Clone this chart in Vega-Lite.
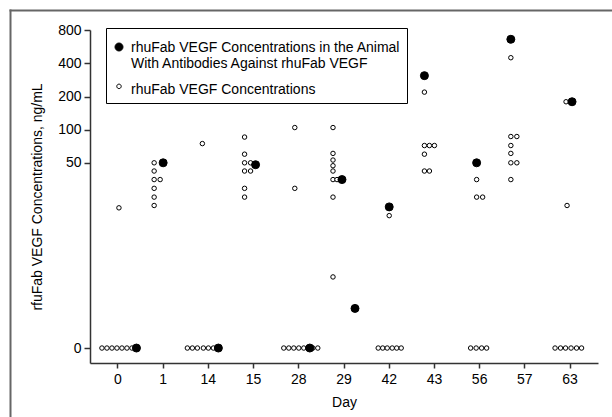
{
  "$schema": "https://vega.github.io/schema/vega-lite/v6.json",
  "width": 602,
  "height": 407,
  "autosize": "none",
  "padding": {"left": 10, "top": 10, "right": 0, "bottom": 0},
  "background": "white",
  "config": {
    "view": {"stroke": null},
    "font": "Liberation Sans",
    "axis": {
      "grid": false,
      "domainColor": "#333333",
      "domainWidth": 1.5,
      "tickColor": "#333333",
      "tickWidth": 1.5,
      "labelColor": "black",
      "titleColor": "black",
      "labelFontSize": 14,
      "titleFontSize": 14,
      "titleFontWeight": "normal"
    }
  },
  "data": {
    "values": [
      {"day": "0", "conc": 0, "jitter": -3.2, "series": "B"},
      {"day": "0", "conc": 0, "jitter": -2.2, "series": "B"},
      {"day": "0", "conc": 0, "jitter": -1.2, "series": "B"},
      {"day": "0", "conc": 0, "jitter": -0.2, "series": "B"},
      {"day": "0", "conc": 0, "jitter": 0.8, "series": "B"},
      {"day": "0", "conc": 0, "jitter": 1.8, "series": "B"},
      {"day": "0", "conc": 0, "jitter": 2.8, "series": "B"},
      {"day": "0", "conc": 19, "jitter": 0.2, "series": "B"},
      {"day": "1", "conc": 50, "jitter": -1.8, "series": "B"},
      {"day": "1", "conc": 42, "jitter": -1.8, "series": "B"},
      {"day": "1", "conc": 35, "jitter": -1.8, "series": "B"},
      {"day": "1", "conc": 29, "jitter": -1.8, "series": "B"},
      {"day": "1", "conc": 24, "jitter": -1.8, "series": "B"},
      {"day": "1", "conc": 20, "jitter": -1.8, "series": "B"},
      {"day": "1", "conc": 35, "jitter": -0.6, "series": "B"},
      {"day": "14", "conc": 75, "jitter": -1.2, "series": "B"},
      {"day": "14", "conc": 0, "jitter": -4.2, "series": "B"},
      {"day": "14", "conc": 0, "jitter": -3.2, "series": "B"},
      {"day": "14", "conc": 0, "jitter": -2.2, "series": "B"},
      {"day": "14", "conc": 0, "jitter": -1.0, "series": "B"},
      {"day": "14", "conc": 0, "jitter": 0, "series": "B"},
      {"day": "14", "conc": 0, "jitter": 1.0, "series": "B"},
      {"day": "15", "conc": 86, "jitter": -1.8, "series": "B"},
      {"day": "15", "conc": 60, "jitter": -1.8, "series": "B"},
      {"day": "15", "conc": 50, "jitter": -1.8, "series": "B"},
      {"day": "15", "conc": 42, "jitter": -1.8, "series": "B"},
      {"day": "15", "conc": 29, "jitter": -1.8, "series": "B"},
      {"day": "15", "conc": 24, "jitter": -1.8, "series": "B"},
      {"day": "15", "conc": 50, "jitter": -0.6, "series": "B"},
      {"day": "15", "conc": 42, "jitter": -0.6, "series": "B"},
      {"day": "28", "conc": 105, "jitter": -0.8, "series": "B"},
      {"day": "28", "conc": 29, "jitter": -0.8, "series": "B"},
      {"day": "28", "conc": 0, "jitter": -3, "series": "B"},
      {"day": "28", "conc": 0, "jitter": -2, "series": "B"},
      {"day": "28", "conc": 0, "jitter": -1, "series": "B"},
      {"day": "28", "conc": 0, "jitter": 0, "series": "B"},
      {"day": "28", "conc": 0, "jitter": 1, "series": "B"},
      {"day": "28", "conc": 0, "jitter": 1.8, "series": "B"},
      {"day": "28", "conc": 0, "jitter": 2.8, "series": "B"},
      {"day": "28", "conc": 0, "jitter": 3.8, "series": "B"},
      {"day": "29", "conc": 105, "jitter": -2.2, "series": "B"},
      {"day": "29", "conc": 61, "jitter": -2.2, "series": "B"},
      {"day": "29", "conc": 53, "jitter": -2.2, "series": "B"},
      {"day": "29", "conc": 47, "jitter": -2.2, "series": "B"},
      {"day": "29", "conc": 42, "jitter": -2.2, "series": "B"},
      {"day": "29", "conc": 35, "jitter": -2.2, "series": "B"},
      {"day": "29", "conc": 24, "jitter": -2.2, "series": "B"},
      {"day": "29", "conc": 3.7, "jitter": -2.2, "series": "B"},
      {"day": "29", "conc": 35, "jitter": -1.4, "series": "B"},
      {"day": "42", "conc": 16, "jitter": 0, "series": "B"},
      {"day": "42", "conc": 0, "jitter": -2.2, "series": "B"},
      {"day": "42", "conc": 0, "jitter": -1.3, "series": "B"},
      {"day": "42", "conc": 0, "jitter": -0.4, "series": "B"},
      {"day": "42", "conc": 0, "jitter": 0.6, "series": "B"},
      {"day": "42", "conc": 0, "jitter": 1.5, "series": "B"},
      {"day": "42", "conc": 0, "jitter": 2.4, "series": "B"},
      {"day": "43", "conc": 220, "jitter": -2, "series": "B"},
      {"day": "43", "conc": 72, "jitter": -2, "series": "B"},
      {"day": "43", "conc": 72, "jitter": -1, "series": "B"},
      {"day": "43", "conc": 72, "jitter": 0, "series": "B"},
      {"day": "43", "conc": 60, "jitter": -2, "series": "B"},
      {"day": "43", "conc": 42, "jitter": -2, "series": "B"},
      {"day": "43", "conc": 42, "jitter": -1, "series": "B"},
      {"day": "56", "conc": 35, "jitter": -0.6, "series": "B"},
      {"day": "56", "conc": 24, "jitter": -0.6, "series": "B"},
      {"day": "56", "conc": 24, "jitter": 0.6, "series": "B"},
      {"day": "56", "conc": 0, "jitter": -1.8, "series": "B"},
      {"day": "56", "conc": 0, "jitter": -0.7, "series": "B"},
      {"day": "56", "conc": 0, "jitter": 0.4, "series": "B"},
      {"day": "56", "conc": 0, "jitter": 1.4, "series": "B"},
      {"day": "57", "conc": 450, "jitter": -2.8, "series": "B"},
      {"day": "57", "conc": 87, "jitter": -2.8, "series": "B"},
      {"day": "57", "conc": 87, "jitter": -1.6, "series": "B"},
      {"day": "57", "conc": 72, "jitter": -2.8, "series": "B"},
      {"day": "57", "conc": 61, "jitter": -2.8, "series": "B"},
      {"day": "57", "conc": 50, "jitter": -2.8, "series": "B"},
      {"day": "57", "conc": 50, "jitter": -1.6, "series": "B"},
      {"day": "57", "conc": 35, "jitter": -2.8, "series": "B"},
      {"day": "63", "conc": 180, "jitter": -0.8, "series": "B"},
      {"day": "63", "conc": 20, "jitter": -0.6, "series": "B"},
      {"day": "63", "conc": 0, "jitter": -3, "series": "B"},
      {"day": "63", "conc": 0, "jitter": -1.9, "series": "B"},
      {"day": "63", "conc": 0, "jitter": -0.9, "series": "B"},
      {"day": "63", "conc": 0, "jitter": 0.2, "series": "B"},
      {"day": "63", "conc": 0, "jitter": 1.3, "series": "B"},
      {"day": "63", "conc": 0, "jitter": 2.3, "series": "B"},
      {"day": "0", "conc": 0, "jitter": 3.7, "series": "A"},
      {"day": "1", "conc": 50, "jitter": 0, "series": "A"},
      {"day": "14", "conc": 0, "jitter": 2, "series": "A"},
      {"day": "15", "conc": 48, "jitter": 0.4, "series": "A"},
      {"day": "28", "conc": 0, "jitter": 2.2, "series": "A"},
      {"day": "29", "conc": 35, "jitter": -0.4, "series": "A"},
      {"day": "29", "conc": 1.4, "jitter": 2.2, "series": "A"},
      {"day": "42", "conc": 19.4, "jitter": 0, "series": "A"},
      {"day": "43", "conc": 310, "jitter": -2, "series": "A"},
      {"day": "56", "conc": 50, "jitter": -0.6, "series": "A"},
      {"day": "57", "conc": 660, "jitter": -2.8, "series": "A"},
      {"day": "63", "conc": 180, "jitter": 0.4, "series": "A"}
    ]
  },
  "layer": [
    {
      "mark": {"type": "point", "opacity": 0},
      "encoding": {
        "x": {"field": "conc", "type": "quantitative", "scale": {"range": [-1, 700], "zero": true, "nice": false},
              "axis": {"orient": "top", "offset": 0, "ticks": false, "labels": false, "title": null, "domainColor": "#666666", "domainWidth": 2}},
        "y": {"field": "conc", "type": "quantitative", "scale": {"range": [500, -1], "zero": true, "nice": false},
              "axis": {"orient": "left", "offset": 0, "ticks": false, "labels": false, "title": null, "domainColor": "#666666", "domainWidth": 2}}
      }
    },
    {
      "mark": {"type": "point", "shape": "circle", "filled": true, "stroke": "black", "strokeWidth": 1, "opacity": 1},
      "encoding": {
        "x": {
          "field": "day",
          "type": "nominal",
          "sort": ["0", "1", "14", "15", "28", "29", "42", "43", "56", "57", "63"],
          "scale": {"range": [80, 588], "paddingInner": 0, "paddingOuter": 0.118},
          "axis": {"orient": "bottom", "title": "Day", "offset": -54, "labelAngle": 0, "tickSize": 5, "labelPadding": 4, "titlePadding": 9}
        },
        "xOffset": {"field": "jitter", "type": "quantitative", "scale": {"domain": [-4.52, 4.52], "zero": false, "nice": false}},
        "y": {
          "field": "conc",
          "type": "quantitative",
          "scale": {"type": "symlog", "constant": 1.1, "domain": [-0.4, 800], "range": [353, 20], "nice": false, "zero": false},
          "axis": {"orient": "left", "title": "rfuFab VEGF Concentrations, ng/mL", "offset": -80, "values": [0, 50, 100, 200, 400, 800], "tickSize": 6, "labelPadding": 3, "titlePadding": 13}
        },
        "fill": {
          "field": "series",
          "type": "nominal",
          "scale": {"domain": ["A", "B"], "range": ["black", "white"]},
          "legend": {
            "title": null,
            "orient": "none",
            "legendX": 96,
            "legendY": 18,
            "strokeColor": "black",
            "padding": 6,
            "labelFontSize": 14,
            "labelLimit": 0,
            "labelColor": "black",
            "symbolType": "M1,1.5A1,1,0,1,1,-1,1.5A1,1,0,1,1,1,1.5Z",
            "symbolStrokeColor": "black",
            "symbolStrokeWidth": 1,
            "rowPadding": 5,
            "labelBaseline": "top",
            "labelOffset": 5,
            "labelExpr": "datum.value == 'A' ? ['rhuFab VEGF Concentrations in the Animal', 'With Antibodies Against rhuFab VEGF'] : 'rhuFab VEGF Concentrations'"
          }
        },
        "size": {
          "field": "series",
          "type": "nominal",
          "scale": {"domain": ["A", "B"], "range": [64, 20]}
        }
      }
    }
  ],
  "resolve": {"scale": {"x": "independent", "y": "independent"}, "axis": {"x": "independent", "y": "independent"}}
}
